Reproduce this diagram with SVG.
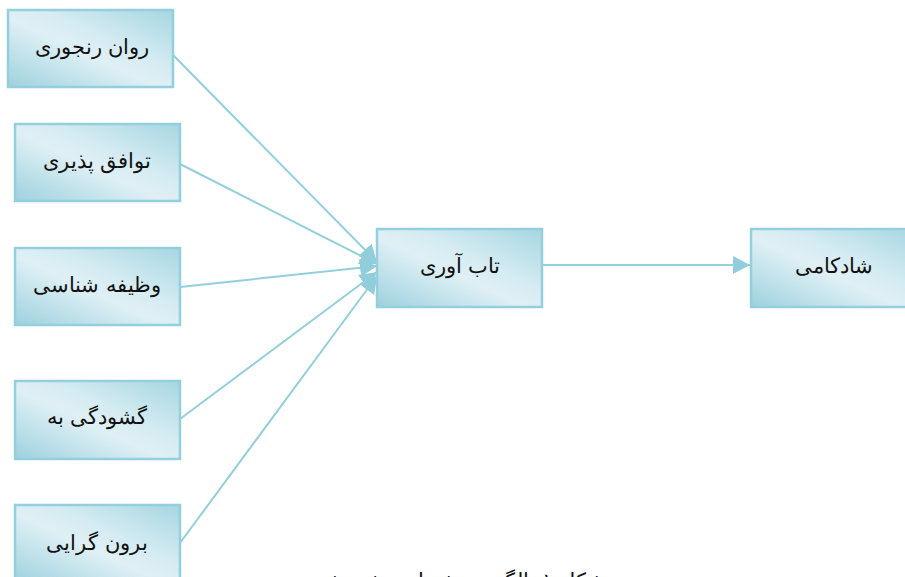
<svg xmlns="http://www.w3.org/2000/svg" width="905" height="577" viewBox="0 0 905 577">
<defs>
<linearGradient id="g" x1="0" y1="1" x2="1" y2="0">
<stop offset="0" stop-color="#9dd1de"/>
<stop offset="0.45" stop-color="#dff0f5"/>
<stop offset="0.6" stop-color="#d6ecf2"/>
<stop offset="1" stop-color="#a6d6e2"/>
</linearGradient>
<marker id="ah" markerUnits="userSpaceOnUse" markerWidth="18" markerHeight="20" refX="17" refY="10" orient="auto" viewBox="0 0 18 20">
<path d="M0,1 L17,10 L0,19 Z" fill="#92cddb"/>
</marker>
<style>
.box{fill:url(#g);stroke:#93cfdc;stroke-width:2.5}
.t{font-family:"DejaVu Serif","Liberation Serif",serif;font-size:21px;fill:#111;text-anchor:middle;direction:rtl}
.c{stroke:#93cfdc;stroke-width:2;fill:none;marker-end:url(#ah)}
</style>
</defs>
<rect width="905" height="577" fill="#fff"/>
<g id="connectors">
<line class="c" x1="173" y1="55" x2="377" y2="262"/>
<line class="c" x1="180" y1="164" x2="377" y2="264"/>
<line class="c" x1="180" y1="287" x2="377" y2="266"/>
<line class="c" x1="180" y1="419" x2="377" y2="272"/>
<line class="c" x1="180" y1="543" x2="377" y2="276"/>
<line class="c" x1="542" y1="265" x2="750" y2="265"/>
</g>
<g id="n1"><rect class="box" x="8" y="10" width="165" height="77"/><text class="t" x="92" y="54">روان رنجوری</text></g>
<g id="n2"><rect class="box" x="15" y="124" width="165" height="77"/><text class="t" x="97" y="168">توافق پذیری</text></g>
<g id="n3"><rect class="box" x="15" y="248" width="165" height="77"/><text class="t" x="97" y="292">وظیفه شناسی</text></g>
<g id="n4"><rect class="box" x="15" y="381" width="165" height="78"/><text class="t" x="97" y="424">گشودگی به</text></g>
<g id="n5"><rect class="box" x="15" y="505" width="165" height="78"/><text class="t" x="97" y="550">برون گرایی</text></g>
<g id="center"><rect class="box" x="377" y="229" width="165" height="78"/><text class="t" x="460" y="273">تاب آوری</text></g>
<g id="out"><rect class="box" x="751" y="229" width="165" height="78"/><text class="t" x="834" y="273">شادکامی</text></g>
<text class="t" x="463" y="588" font-size="22">شکل ۱. الگوی پیشنهادی پژوهش</text>
</svg>
